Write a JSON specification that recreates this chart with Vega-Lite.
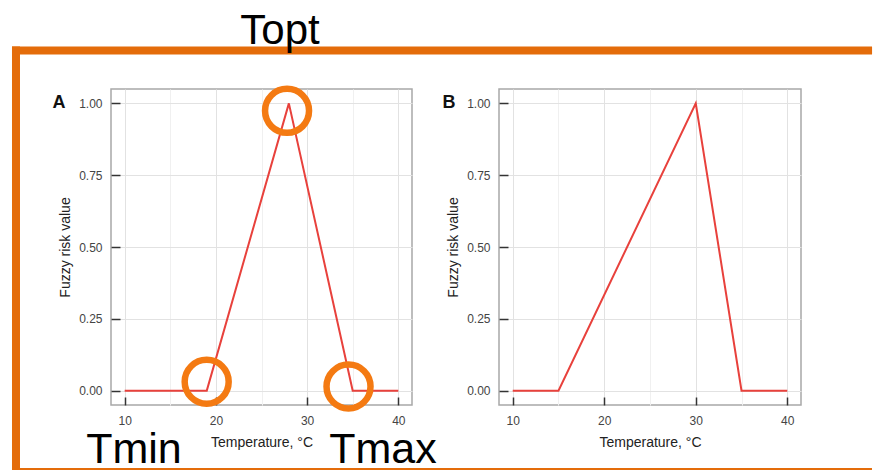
{
  "$schema": "https://vega.github.io/schema/vega-lite/v6.json",
  "padding": {"left": 9, "top": 8, "right": 0, "bottom": 0},
  "background": "white",
  "bounds": "flush",
  "spacing": 87,
  "config": {
    "view": {"stroke": "#a8a8a8", "strokeWidth": 1.5},
    "axis": {
      "labelFont": "Liberation Sans",
      "titleFont": "Liberation Sans",
      "labelFontSize": 12,
      "titleFontSize": 14,
      "titleFontWeight": "normal",
      "labelColor": "#444444",
      "titleColor": "#222222",
      "domain": false,
      "tickColor": "#333333",
      "tickWidth": 1.5,
      "labelOverlap": false
    }
  },
  "datasets": {
    "curveA": [
      {"t": 10, "v": 0}, {"t": 19, "v": 0}, {"t": 28, "v": 1}, {"t": 35, "v": 0}, {"t": 40, "v": 0}
    ],
    "curveB": [
      {"t": 10, "v": 0}, {"t": 15, "v": 0}, {"t": 30, "v": 1}, {"t": 35, "v": 0}, {"t": 40, "v": 0}
    ],
    "circles": [
      {"t": 18.99, "v": 0.031}, {"t": 27.8, "v": 0.974}, {"t": 34.54, "v": 0.0144}
    ],
    "toptLabel": [
      {"t": 27.03, "v": 1.208, "label": "Topt"}
    ],
    "boundLabels": [
      {"t": 11.02, "v": -0.2519, "label": "Tmin"},
      {"t": 38.32, "v": -0.2519, "label": "Tmax"}
    ],
    "frameThick": [
      {"x": -1.916, "x2": 91.5, "y": 1.184, "y2": 1.184},
      {"x": -1.916, "x2": -1.916, "y": 1.184, "y2": -0.2693}
    ],
    "frameThin": [
      {"x": -1.916, "x2": 91.93, "y": -0.276, "y2": -0.276}
    ],
    "panelA": [{"t": 2.8, "v": 1.0, "label": "A"}],
    "panelB": [{"t": 3.04, "v": 1.0, "label": "B"}]
  },
  "hconcat": [
    {
      "width": 301,
      "height": 316,
      "layer": [
        {
          "data": {"name": "curveA"},
          "mark": {"type": "line", "color": "#E8413C", "strokeWidth": 2},
          "encoding": {
            "x": {
              "field": "t", "type": "quantitative",
              "scale": {"domain": [8.5, 41.5], "nice": false, "zero": false},
              "axis": {
                "title": "Temperature, °C",
                "values": [10, 15, 20, 25, 30, 35, 40],
                "labelExpr": "datum.value % 10 === 0 ? datum.label : ''",
                "offset": -8, "tickSize": 8, "labelPadding": 10, "titlePadding": 9,
                "gridColor": {"condition": {"test": "datum.value % 10 === 0", "value": "#e2e2e2"}, "value": "#f0f0f0"},
                "tickOpacity": {"condition": {"test": "datum.value % 10 === 0", "value": 1}, "value": 0}
              }
            },
            "y": {
              "field": "v", "type": "quantitative",
              "scale": {"domain": [-0.05, 1.05], "nice": false, "zero": false},
              "axis": {
                "title": "Fuzzy risk value",
                "values": [0, 0.125, 0.25, 0.375, 0.5, 0.625, 0.75, 0.875, 1],
                "format": ".2f",
                "labelExpr": "datum.value % 0.25 === 0 ? datum.label : ''",
                "offset": -9, "tickSize": 9, "labelPadding": 9, "titlePadding": 6,
                "gridColor": {"condition": {"test": "datum.value % 0.25 === 0", "value": "#e2e2e2"}, "value": "#f0f0f0"},
                "tickOpacity": {"condition": {"test": "datum.value % 0.25 === 0", "value": 1}, "value": 0}
              }
            }
          }
        },
        {
          "data": {"name": "circles"},
          "mark": {"type": "point", "shape": "circle", "filled": false, "stroke": "#F47A12", "strokeWidth": 6.5, "size": 1936, "opacity": 1},
          "encoding": {
            "x": {"field": "t", "type": "quantitative"},
            "y": {"field": "v", "type": "quantitative"}
          }
        },
        {
          "data": {"name": "frameThick"},
          "mark": {"type": "rule", "color": "#E46C0A", "strokeWidth": 8, "strokeCap": "square"},
          "encoding": {
            "x": {"field": "x", "type": "quantitative"},
            "x2": {"field": "x2"},
            "y": {"field": "y", "type": "quantitative"},
            "y2": {"field": "y2"}
          }
        },
        {
          "data": {"name": "frameThin"},
          "mark": {"type": "rule", "color": "#E46C0A", "strokeWidth": 4},
          "encoding": {
            "x": {"field": "x", "type": "quantitative"},
            "x2": {"field": "x2"},
            "y": {"field": "y", "type": "quantitative"},
            "y2": {"field": "y2"}
          }
        },
        {
          "data": {"name": "toptLabel"},
          "mark": {"type": "text", "font": "Liberation Sans", "fontSize": 42, "color": "#000000", "align": "center", "baseline": "alphabetic"},
          "encoding": {
            "x": {"field": "t", "type": "quantitative"},
            "y": {"field": "v", "type": "quantitative"},
            "text": {"field": "label"}
          }
        },
        {
          "data": {"name": "boundLabels"},
          "mark": {"type": "text", "font": "Liberation Sans", "fontSize": 43, "color": "#000000", "align": "center", "baseline": "alphabetic"},
          "encoding": {
            "x": {"field": "t", "type": "quantitative"},
            "y": {"field": "v", "type": "quantitative"},
            "text": {"field": "label"}
          }
        },
        {
          "data": {"name": "panelA"},
          "mark": {"type": "text", "font": "Liberation Sans", "fontSize": 18, "fontWeight": "bold", "color": "#111111", "align": "center", "baseline": "middle"},
          "encoding": {
            "x": {"field": "t", "type": "quantitative"},
            "y": {"field": "v", "type": "quantitative"},
            "text": {"field": "label"}
          }
        }
      ]
    },
    {
      "width": 302,
      "height": 316,
      "layer": [
        {
          "data": {"name": "curveB"},
          "mark": {"type": "line", "color": "#E8413C", "strokeWidth": 2},
          "encoding": {
            "x": {
              "field": "t", "type": "quantitative",
              "scale": {"domain": [8.5, 41.5], "nice": false, "zero": false},
              "axis": {
                "title": "Temperature, °C",
                "values": [10, 15, 20, 25, 30, 35, 40],
                "labelExpr": "datum.value % 10 === 0 ? datum.label : ''",
                "offset": -8, "tickSize": 8, "labelPadding": 10, "titlePadding": 9,
                "gridColor": {"condition": {"test": "datum.value % 10 === 0", "value": "#e2e2e2"}, "value": "#f0f0f0"},
                "tickOpacity": {"condition": {"test": "datum.value % 10 === 0", "value": 1}, "value": 0}
              }
            },
            "y": {
              "field": "v", "type": "quantitative",
              "scale": {"domain": [-0.05, 1.05], "nice": false, "zero": false},
              "axis": {
                "title": "Fuzzy risk value",
                "values": [0, 0.125, 0.25, 0.375, 0.5, 0.625, 0.75, 0.875, 1],
                "format": ".2f",
                "labelExpr": "datum.value % 0.25 === 0 ? datum.label : ''",
                "offset": -9, "tickSize": 9, "labelPadding": 9, "titlePadding": 6,
                "gridColor": {"condition": {"test": "datum.value % 0.25 === 0", "value": "#e2e2e2"}, "value": "#f0f0f0"},
                "tickOpacity": {"condition": {"test": "datum.value % 0.25 === 0", "value": 1}, "value": 0}
              }
            }
          }
        },
        {
          "data": {"name": "panelB"},
          "mark": {"type": "text", "font": "Liberation Sans", "fontSize": 18, "fontWeight": "bold", "color": "#111111", "align": "center", "baseline": "middle"},
          "encoding": {
            "x": {"field": "t", "type": "quantitative"},
            "y": {"field": "v", "type": "quantitative"},
            "text": {"field": "label"}
          }
        }
      ]
    }
  ]
}
